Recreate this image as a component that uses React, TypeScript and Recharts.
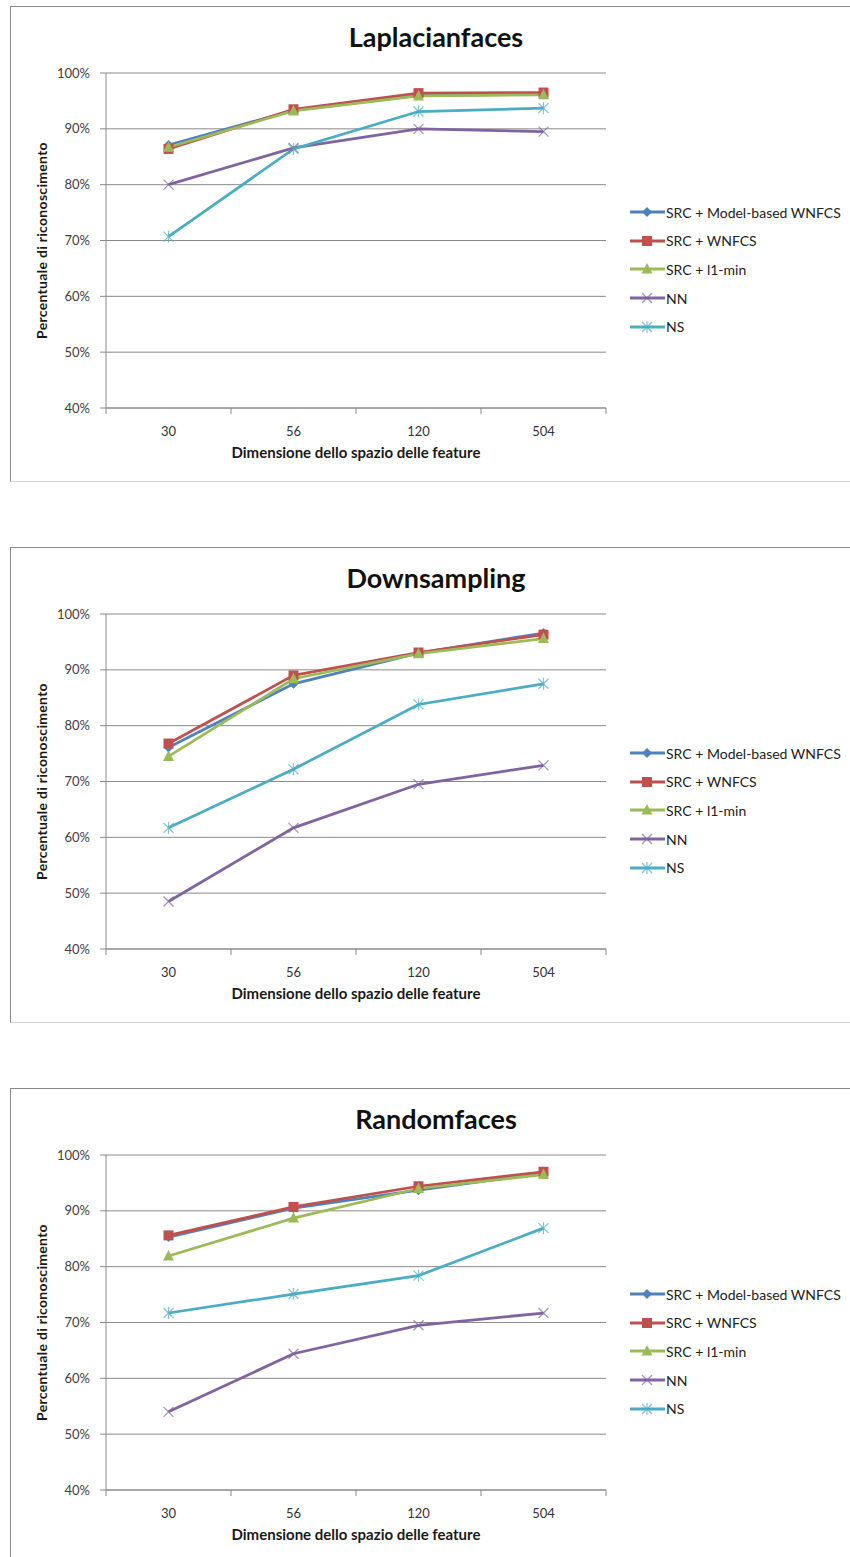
import { LineChart, Line, XAxis, YAxis, CartesianGrid, Legend, Label } from 'recharts'

const FONT = 'Lato, "Open Sans", sans-serif'
const AXIS = '#8a8a8a'

const DIMENSIONS = ['30', '56', '120', '504']
const PERCENT_TICKS = [40, 50, 60, 70, 80, 90, 100]
const POSITION_TICKS = [0, 0.5, 1, 1.5, 2, 2.5, 3, 3.5, 4]

// recognition rate (%) per feature dimension
const LAPLACIAN_MB_WNFCS = [87.1, 93.3, 96.0, 96.2]
const LAPLACIAN_WNFCS = [86.4, 93.5, 96.4, 96.5]
const LAPLACIAN_L1 = [86.7, 93.2, 95.9, 96.1]
const LAPLACIAN_NN = [80.0, 86.6, 90.0, 89.5]
const LAPLACIAN_NS = [70.7, 86.4, 93.1, 93.7]

const DOWNSAMPLING_MB_WNFCS = [76.1, 87.5, 93.0, 96.6]
const DOWNSAMPLING_WNFCS = [76.8, 89.0, 93.1, 96.3]
const DOWNSAMPLING_L1 = [74.5, 88.4, 92.9, 95.6]
const DOWNSAMPLING_NN = [48.5, 61.7, 69.5, 72.9]
const DOWNSAMPLING_NS = [61.7, 72.2, 83.8, 87.5]

const RANDOM_MB_WNFCS = [85.3, 90.5, 93.7, 96.8]
const RANDOM_WNFCS = [85.6, 90.7, 94.4, 97.0]
const RANDOM_L1 = [81.9, 88.7, 94.0, 96.5]
const RANDOM_NN = [54.0, 64.4, 69.5, 71.7]
const RANDOM_NS = [71.7, 75.1, 78.4, 86.9]

type Shape = 'diamond' | 'square' | 'triangle' | 'cross' | 'star'

const SERIES: { key: string; name: string; color: string; shape: Shape }[] = [
  { key: 'mb', name: 'SRC + Model-based WNFCS', color: '#4f81bd', shape: 'diamond' },
  { key: 'wnfcs', name: 'SRC + WNFCS', color: '#c0504d', shape: 'square' },
  { key: 'l1', name: 'SRC + l1-min', color: '#9bbb59', shape: 'triangle' },
  { key: 'nn', name: 'NN', color: '#8064a2', shape: 'cross' },
  { key: 'ns', name: 'NS', color: '#4bacc6', shape: 'star' },
]

function buildRows(mb: number[], wnfcs: number[], l1: number[], nn: number[], ns: number[]) {
  return DIMENSIONS.map((label, i) => ({
    pos: i + 0.5,
    label,
    mb: mb[i],
    wnfcs: wnfcs[i],
    l1: l1[i],
    nn: nn[i],
    ns: ns[i],
  }))
}

function Marker({ shape, cx, cy, color }: { shape: Shape; cx: number; cy: number; color: string }) {
  if (cx == null || cy == null) return null
  switch (shape) {
    case 'diamond':
      return <polygon points={`${cx},${cy - 5} ${cx + 5},${cy} ${cx},${cy + 5} ${cx - 5},${cy}`} fill={color} />
    case 'square':
      return <rect x={cx - 5} y={cy - 5} width={10} height={10} fill={color} />
    case 'triangle':
      return <polygon points={`${cx},${cy - 6} ${cx + 5.5},${cy + 4.5} ${cx - 5.5},${cy + 4.5}`} fill={color} />
    case 'cross':
      return (
        <g stroke={color} strokeWidth={1.2} opacity={0.7}>
          <line x1={cx - 5} y1={cy - 5} x2={cx + 5} y2={cy + 5} />
          <line x1={cx - 5} y1={cy + 5} x2={cx + 5} y2={cy - 5} />
        </g>
      )
    default:
      return (
        <g stroke={color} strokeWidth={1.2} opacity={0.7}>
          <line x1={cx - 5} y1={cy - 5} x2={cx + 5} y2={cy + 5} />
          <line x1={cx - 5} y1={cy + 5} x2={cx + 5} y2={cy - 5} />
          <line x1={cx} y1={cy - 6} x2={cx} y2={cy + 6} />
        </g>
      )
  }
}

// labels sit in the middle of each band, tick marks on the band edges
function CategoryTick(props: any) {
  const { x, y, payload } = props
  const v = payload.value as number
  if (Number.isInteger(v)) return <line x1={x} y1={y} x2={x} y2={y + 6} stroke={AXIS} />
  return (
    <text x={x} y={y + 28} textAnchor="middle" fontSize={13} fill="#333" fontFamily={FONT}>
      {DIMENSIONS[Math.floor(v)]}
    </text>
  )
}

function SeriesLegend() {
  return (
    <div style={{ fontFamily: FONT, fontSize: 14, color: '#222' }}>
      {SERIES.map(s => (
        <div key={s.key} style={{ height: 28.6, display: 'flex', alignItems: 'center' }}>
          <svg width={36} height={14} style={{ flex: 'none' }}>
            <line x1={0} y1={7} x2={35} y2={7} stroke={s.color} strokeWidth={3} />
            <Marker shape={s.shape} cx={17} cy={7} color={s.color} />
          </svg>
          <span style={{ whiteSpace: 'nowrap' }}>{s.name}</span>
        </div>
      ))}
    </div>
  )
}

function Panel({ title, top, clip, rows }: { title: string; top: number; clip: number; rows: any[] }) {
  return (
    <div style={{ position: 'absolute', left: 0, top, width: 850, height: clip, overflow: 'hidden' }}>
      <div
        style={{
          position: 'absolute', left: 10, top: 0, width: 850, height: 476, boxSizing: 'border-box',
          borderTop: '1.5px solid #8a8a8a', borderLeft: '1.5px solid #8a8a8a', borderBottom: '1.5px solid #d4d4d4',
        }}
      />
      <div
        style={{
          position: 'absolute', left: 436, top: 14, lineHeight: '34px', transform: 'translateX(-50%)',
          whiteSpace: 'nowrap', fontFamily: FONT, fontWeight: 'bold', fontSize: 27, color: '#111',
        }}
      >
        {title}
      </div>
      <div style={{ position: 'absolute', left: 0, top: 0 }}>
        <LineChart width={850} height={476} data={rows} margin={{ top: 67, right: 24, bottom: 14, left: 10 }}>
          <CartesianGrid vertical={false} stroke={AXIS} />
          <XAxis
            dataKey="pos" type="number" domain={[0, 4]} ticks={POSITION_TICKS} interval={0}
            height={60} tickLine={false} tickSize={0} tickMargin={0} tick={<CategoryTick />}
            axisLine={{ stroke: AXIS }}
          >
            <Label
              value="Dimensione dello spazio delle feature" position="insideBottom" offset={10}
              style={{ fontFamily: FONT, fontWeight: 'bold', fontSize: 15, fill: '#1a1a1a' }}
            />
          </XAxis>
          <YAxis
            type="number" domain={[40, 100]} ticks={PERCENT_TICKS} width={96}
            tickFormatter={(v: number) => `${v}%`} tickSize={6} tickMargin={10}
            tickLine={{ stroke: AXIS }} axisLine={{ stroke: AXIS }}
            tick={{ fontSize: 13, fill: '#404040', fontFamily: FONT }}
          >
            <Label
              value="Percentuale di riconoscimento" angle={-90} position="insideLeft" offset={32}
              style={{
                textAnchor: 'middle', fontFamily: FONT, fontWeight: 'bold', fontSize: 14,
                letterSpacing: 0.3, fill: '#1a1a1a',
              }}
            />
          </YAxis>
          <Legend
            layout="vertical" align="right" verticalAlign="top" width={220}
            wrapperStyle={{ top: 192, left: 630 }} content={() => <SeriesLegend />}
          />
          {SERIES.map(s => (
            <Line
              key={s.key} dataKey={s.key} name={s.name} stroke={s.color} strokeWidth={2.75}
              isAnimationActive={false} activeDot={false}
              dot={(p: any) => <Marker key={`${s.key}-${p.index}`} shape={s.shape} cx={p.cx} cy={p.cy} color={s.color} />}
            />
          ))}
        </LineChart>
      </div>
    </div>
  )
}

export default function App() {
  return (
    <div style={{ position: 'absolute', left: 0, top: 0, width: 850, height: 1557, overflow: 'hidden', background: '#fff' }}>
      <Panel
        title="Laplacianfaces" top={6} clip={476}
        rows={buildRows(LAPLACIAN_MB_WNFCS, LAPLACIAN_WNFCS, LAPLACIAN_L1, LAPLACIAN_NN, LAPLACIAN_NS)}
      />
      <Panel
        title="Downsampling" top={547} clip={476}
        rows={buildRows(DOWNSAMPLING_MB_WNFCS, DOWNSAMPLING_WNFCS, DOWNSAMPLING_L1, DOWNSAMPLING_NN, DOWNSAMPLING_NS)}
      />
      <Panel
        title="Randomfaces" top={1088} clip={469}
        rows={buildRows(RANDOM_MB_WNFCS, RANDOM_WNFCS, RANDOM_L1, RANDOM_NN, RANDOM_NS)}
      />
    </div>
  )
}
